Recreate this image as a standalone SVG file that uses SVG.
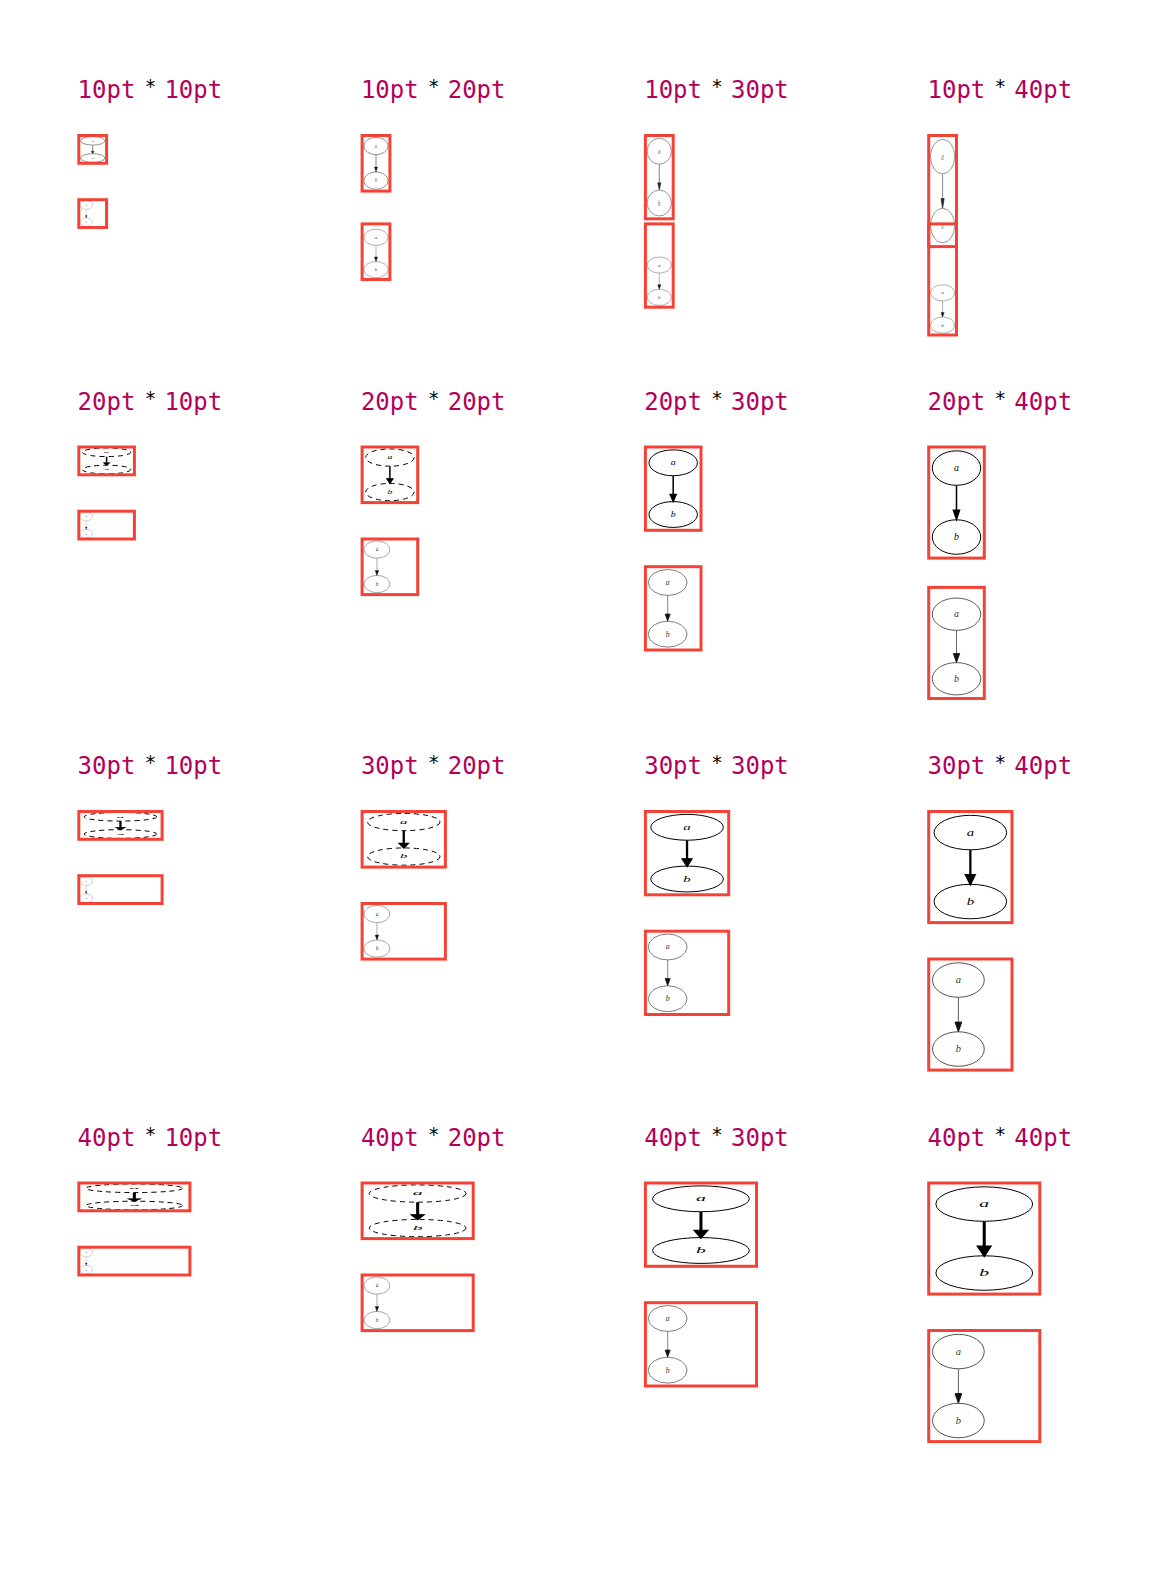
<svg xmlns="http://www.w3.org/2000/svg" xmlns:xlink="http://www.w3.org/1999/xlink" width="1151" height="1576" viewBox="0 0 1151 1576">
<style>
.t{font-family:"DejaVu Sans Mono",monospace;font-size:24px;fill:#b5005b}
.s{font-family:"DejaVu Sans Mono",monospace;font-size:19px;fill:#000;text-anchor:middle}
.box{fill:none;stroke:#f44336;stroke-width:3}
.gl text{font-family:"Liberation Serif",serif;font-style:italic;font-size:11px;text-anchor:middle}
.fit ellipse{fill:none;stroke:#4a4a4a;stroke-width:1}
.fit line{stroke:#555;stroke-width:1}
.fit polygon{fill:#111;stroke:#111;stroke-width:1}
.fit text{fill:#333}
.thn ellipse{fill:none;stroke:#888;stroke-width:0.9;vector-effect:non-scaling-stroke}
.thn line{stroke:#666;stroke-width:0.8;vector-effect:non-scaling-stroke}
.thn polygon{fill:#222;stroke:#222;stroke-width:1}
.thn text{fill:#666}
.fil ellipse{fill:none;stroke:#000;stroke-width:1;vector-effect:non-scaling-stroke}
.fil line{stroke:#000;stroke-width:1.7}
.fil polygon{fill:#000;stroke:#000;stroke-width:1.5}
.fil text{fill:#000}
.dsh ellipse{stroke-dasharray:5 4}
</style>
<defs>
<g id="gFit" class="gl fit">
<ellipse cx="31" cy="22" rx="27" ry="18"/>
<ellipse cx="31" cy="94" rx="27" ry="18"/>
<line x1="31" y1="40.3" x2="31" y2="66"/>
<polygon points="34.5,65.9 31,75.9 27.5,65.9"/>
<text x="31" y="25.5">a</text>
<text x="31" y="97.5">b</text>
</g>
<g id="gThin" class="gl thn">
<ellipse cx="31" cy="22" rx="27" ry="18"/>
<ellipse cx="31" cy="94" rx="27" ry="18"/>
<line x1="31" y1="40.3" x2="31" y2="66"/>
<polygon points="34.5,65.9 31,75.9 27.5,65.9"/>
<text x="31" y="25.5">a</text>
<text x="31" y="97.5">b</text>
</g>
<g id="gFill" class="gl fil">
<ellipse cx="31" cy="22" rx="27" ry="18"/>
<ellipse cx="31" cy="94" rx="27" ry="18"/>
<line x1="31" y1="40.3" x2="31" y2="66"/>
<polygon points="34.5,65.9 31,75.9 27.5,65.9"/>
<text x="31" y="25.5">a</text>
<text x="31" y="97.5">b</text>
</g>
<g id="gDash" class="gl fil dsh">
<ellipse cx="31" cy="22" rx="27" ry="18"/>
<ellipse cx="31" cy="94" rx="27" ry="18"/>
<line x1="31" y1="40.3" x2="31" y2="66"/>
<polygon points="34.5,65.9 31,75.9 27.5,65.9"/>
<text x="31" y="25.5">a</text>
<text x="31" y="97.5">b</text>
</g>
</defs>

<!-- Row 1: width 10pt -->
<g id="c10x10">
<text class="t" x="77.6" y="98">10pt</text><text class="s" x="150.4" y="93">*</text><text class="t" x="164.4" y="98">10pt</text>
<svg x="78.8" y="135.5" width="27.8" height="27.8" viewBox="0 0 62 116" preserveAspectRatio="none"><use href="#gThin"/></svg>
<rect class="box" x="78.8" y="135.5" width="27.8" height="27.8"/>
<svg x="78.8" y="199.7" width="27.8" height="27.8" viewBox="0 0 62 116" preserveAspectRatio="xMinYMax meet"><use href="#gFit"/></svg>
<rect class="box" x="78.8" y="199.7" width="27.8" height="27.8"/>
</g>
<g id="c10x20">
<text class="t" x="360.9" y="98">10pt</text><text class="s" x="433.7" y="93">*</text><text class="t" x="447.7" y="98">20pt</text>
<svg x="362.1" y="135.5" width="27.8" height="55.6" viewBox="0 0 62 116" preserveAspectRatio="none"><use href="#gThin"/></svg>
<rect class="box" x="362.1" y="135.5" width="27.8" height="55.6"/>
<svg x="362.1" y="223.9" width="27.8" height="55.6" viewBox="0 0 62 116" preserveAspectRatio="xMinYMax meet"><use href="#gFit"/></svg>
<rect class="box" x="362.1" y="223.9" width="27.8" height="55.6"/>
</g>
<g id="c10x30">
<text class="t" x="644.2" y="98">10pt</text><text class="s" x="717" y="93">*</text><text class="t" x="731" y="98">30pt</text>
<svg x="645.4" y="135.5" width="27.8" height="83.3" viewBox="0 0 62 116" preserveAspectRatio="none"><use href="#gThin"/></svg>
<rect class="box" x="645.4" y="135.5" width="27.8" height="83.3"/>
<svg x="645.4" y="223.9" width="27.8" height="83.3" viewBox="0 0 62 116" preserveAspectRatio="xMinYMax meet"><use href="#gFit"/></svg>
<rect class="box" x="645.4" y="223.9" width="27.8" height="83.3"/>
</g>
<g id="c10x40">
<text class="t" x="927.5" y="98">10pt</text><text class="s" x="1000.3" y="93">*</text><text class="t" x="1014.3" y="98">40pt</text>
<svg x="928.7" y="135.5" width="27.8" height="111.1" viewBox="0 0 62 116" preserveAspectRatio="none"><use href="#gThin"/></svg>
<rect class="box" x="928.7" y="135.5" width="27.8" height="111.1"/>
<svg x="928.7" y="223.9" width="27.8" height="111.1" viewBox="0 0 62 116" preserveAspectRatio="xMinYMax meet"><use href="#gFit"/></svg>
<rect class="box" x="928.7" y="223.9" width="27.8" height="111.1"/>
</g>

<!-- Row 2: width 20pt -->
<g id="c20x10">
<text class="t" x="77.6" y="409.5">20pt</text><text class="s" x="150.4" y="404.5">*</text><text class="t" x="164.4" y="409.5">10pt</text>
<svg x="78.8" y="447" width="55.6" height="27.8" viewBox="0 0 62 116" preserveAspectRatio="none"><use href="#gDash"/></svg>
<rect class="box" x="78.8" y="447" width="55.6" height="27.8"/>
<svg x="78.8" y="511.2" width="55.6" height="27.8" viewBox="0 0 62 116" preserveAspectRatio="xMinYMax meet"><use href="#gFit"/></svg>
<rect class="box" x="78.8" y="511.2" width="55.6" height="27.8"/>
</g>
<g id="c20x20">
<text class="t" x="360.9" y="409.5">20pt</text><text class="s" x="433.7" y="404.5">*</text><text class="t" x="447.7" y="409.5">20pt</text>
<svg x="362.1" y="447" width="55.6" height="55.6" viewBox="0 0 62 116" preserveAspectRatio="none"><use href="#gDash"/></svg>
<rect class="box" x="362.1" y="447" width="55.6" height="55.6"/>
<svg x="362.1" y="539" width="55.6" height="55.6" viewBox="0 0 62 116" preserveAspectRatio="xMinYMax meet"><use href="#gFit"/></svg>
<rect class="box" x="362.1" y="539" width="55.6" height="55.6"/>
</g>
<g id="c20x30">
<text class="t" x="644.2" y="409.5">20pt</text><text class="s" x="717" y="404.5">*</text><text class="t" x="731" y="409.5">30pt</text>
<svg x="645.4" y="447" width="55.6" height="83.3" viewBox="0 0 62 116" preserveAspectRatio="none"><use href="#gFill"/></svg>
<rect class="box" x="645.4" y="447" width="55.6" height="83.3"/>
<svg x="645.4" y="566.7" width="55.6" height="83.3" viewBox="0 0 62 116" preserveAspectRatio="xMinYMax meet"><use href="#gFit"/></svg>
<rect class="box" x="645.4" y="566.7" width="55.6" height="83.3"/>
</g>
<g id="c20x40">
<text class="t" x="927.5" y="409.5">20pt</text><text class="s" x="1000.3" y="404.5">*</text><text class="t" x="1014.3" y="409.5">40pt</text>
<svg x="928.7" y="447" width="55.6" height="111.1" viewBox="0 0 62 116" preserveAspectRatio="none"><use href="#gFill"/></svg>
<rect class="box" x="928.7" y="447" width="55.6" height="111.1"/>
<svg x="928.7" y="587.4" width="55.6" height="111.1" viewBox="0 0 62 116" preserveAspectRatio="xMinYMax meet"><use href="#gFit"/></svg>
<rect class="box" x="928.7" y="587.4" width="55.6" height="111.1"/>
</g>

<!-- Row 3: width 30pt -->
<g id="c30x10">
<text class="t" x="77.6" y="774">30pt</text><text class="s" x="150.4" y="769">*</text><text class="t" x="164.4" y="774">10pt</text>
<svg x="78.8" y="811.5" width="83.3" height="27.8" viewBox="0 0 62 116" preserveAspectRatio="none"><use href="#gDash"/></svg>
<rect class="box" x="78.8" y="811.5" width="83.3" height="27.8"/>
<svg x="78.8" y="875.7" width="83.3" height="27.8" viewBox="0 0 62 116" preserveAspectRatio="xMinYMax meet"><use href="#gFit"/></svg>
<rect class="box" x="78.8" y="875.7" width="83.3" height="27.8"/>
</g>
<g id="c30x20">
<text class="t" x="360.9" y="774">30pt</text><text class="s" x="433.7" y="769">*</text><text class="t" x="447.7" y="774">20pt</text>
<svg x="362.1" y="811.5" width="83.3" height="55.6" viewBox="0 0 62 116" preserveAspectRatio="none"><use href="#gDash"/></svg>
<rect class="box" x="362.1" y="811.5" width="83.3" height="55.6"/>
<svg x="362.1" y="903.5" width="83.3" height="55.6" viewBox="0 0 62 116" preserveAspectRatio="xMinYMax meet"><use href="#gFit"/></svg>
<rect class="box" x="362.1" y="903.5" width="83.3" height="55.6"/>
</g>
<g id="c30x30">
<text class="t" x="644.2" y="774">30pt</text><text class="s" x="717" y="769">*</text><text class="t" x="731" y="774">30pt</text>
<svg x="645.4" y="811.5" width="83.3" height="83.3" viewBox="0 0 62 116" preserveAspectRatio="none"><use href="#gFill"/></svg>
<rect class="box" x="645.4" y="811.5" width="83.3" height="83.3"/>
<svg x="645.4" y="931.2" width="83.3" height="83.3" viewBox="0 0 62 116" preserveAspectRatio="xMinYMax meet"><use href="#gFit"/></svg>
<rect class="box" x="645.4" y="931.2" width="83.3" height="83.3"/>
</g>
<g id="c30x40">
<text class="t" x="927.5" y="774">30pt</text><text class="s" x="1000.3" y="769">*</text><text class="t" x="1014.3" y="774">40pt</text>
<svg x="928.7" y="811.5" width="83.3" height="111.1" viewBox="0 0 62 116" preserveAspectRatio="none"><use href="#gFill"/></svg>
<rect class="box" x="928.7" y="811.5" width="83.3" height="111.1"/>
<svg x="928.7" y="959" width="83.3" height="111.1" viewBox="0 0 62 116" preserveAspectRatio="xMinYMax meet"><use href="#gFit"/></svg>
<rect class="box" x="928.7" y="959" width="83.3" height="111.1"/>
</g>

<!-- Row 4: width 40pt -->
<g id="c40x10">
<text class="t" x="77.6" y="1145.5">40pt</text><text class="s" x="150.4" y="1140.5">*</text><text class="t" x="164.4" y="1145.5">10pt</text>
<svg x="78.8" y="1183" width="111.1" height="27.8" viewBox="0 0 62 116" preserveAspectRatio="none"><use href="#gDash"/></svg>
<rect class="box" x="78.8" y="1183" width="111.1" height="27.8"/>
<svg x="78.8" y="1247.2" width="111.1" height="27.8" viewBox="0 0 62 116" preserveAspectRatio="xMinYMax meet"><use href="#gFit"/></svg>
<rect class="box" x="78.8" y="1247.2" width="111.1" height="27.8"/>
</g>
<g id="c40x20">
<text class="t" x="360.9" y="1145.5">40pt</text><text class="s" x="433.7" y="1140.5">*</text><text class="t" x="447.7" y="1145.5">20pt</text>
<svg x="362.1" y="1183" width="111.1" height="55.6" viewBox="0 0 62 116" preserveAspectRatio="none"><use href="#gDash"/></svg>
<rect class="box" x="362.1" y="1183" width="111.1" height="55.6"/>
<svg x="362.1" y="1275" width="111.1" height="55.6" viewBox="0 0 62 116" preserveAspectRatio="xMinYMax meet"><use href="#gFit"/></svg>
<rect class="box" x="362.1" y="1275" width="111.1" height="55.6"/>
</g>
<g id="c40x30">
<text class="t" x="644.2" y="1145.5">40pt</text><text class="s" x="717" y="1140.5">*</text><text class="t" x="731" y="1145.5">30pt</text>
<svg x="645.4" y="1183" width="111.1" height="83.3" viewBox="0 0 62 116" preserveAspectRatio="none"><use href="#gFill"/></svg>
<rect class="box" x="645.4" y="1183" width="111.1" height="83.3"/>
<svg x="645.4" y="1302.7" width="111.1" height="83.3" viewBox="0 0 62 116" preserveAspectRatio="xMinYMax meet"><use href="#gFit"/></svg>
<rect class="box" x="645.4" y="1302.7" width="111.1" height="83.3"/>
</g>
<g id="c40x40">
<text class="t" x="927.5" y="1145.5">40pt</text><text class="s" x="1000.3" y="1140.5">*</text><text class="t" x="1014.3" y="1145.5">40pt</text>
<svg x="928.7" y="1183" width="111.1" height="111.1" viewBox="0 0 62 116" preserveAspectRatio="none"><use href="#gFill"/></svg>
<rect class="box" x="928.7" y="1183" width="111.1" height="111.1"/>
<svg x="928.7" y="1330.5" width="111.1" height="111.1" viewBox="0 0 62 116" preserveAspectRatio="xMinYMax meet"><use href="#gFit"/></svg>
<rect class="box" x="928.7" y="1330.5" width="111.1" height="111.1"/>
</g>
</svg>
